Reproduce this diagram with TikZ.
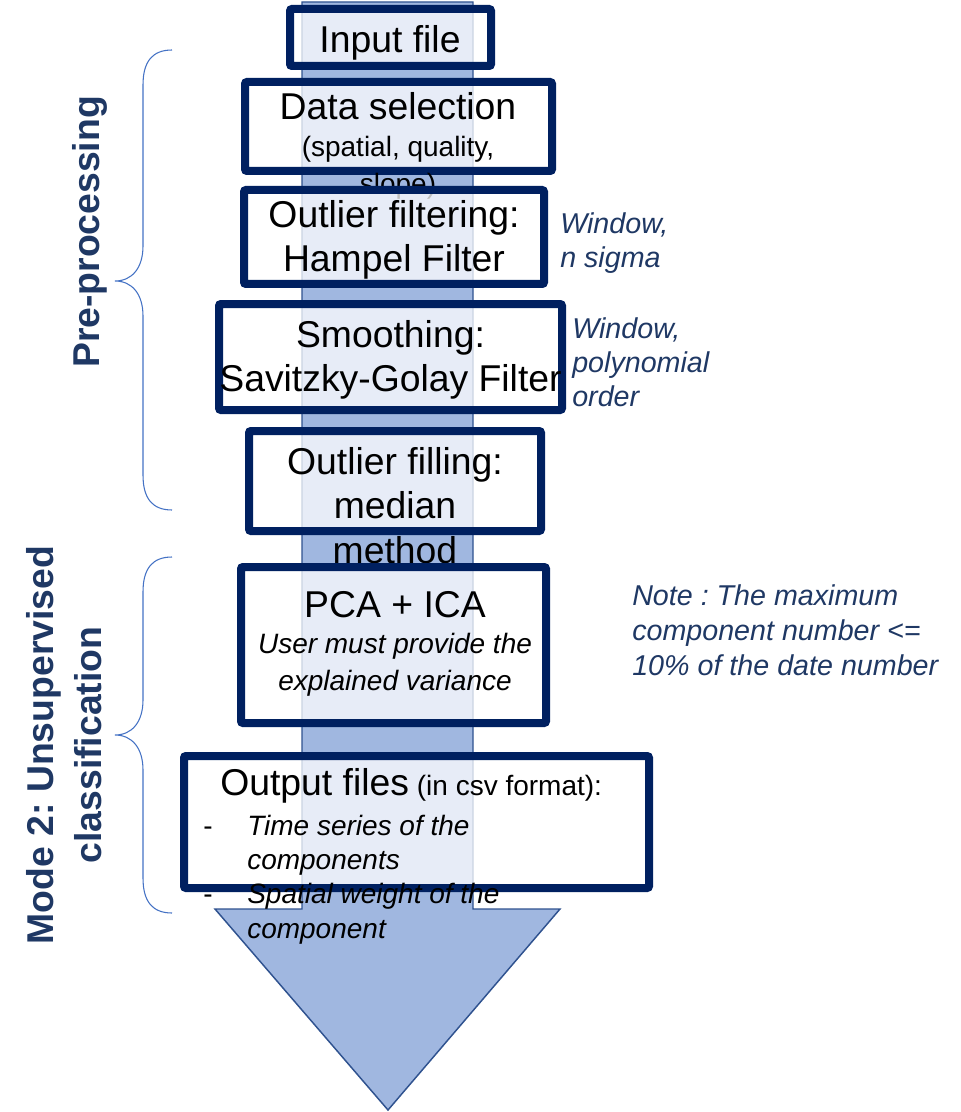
\documentclass[tikz,border=0pt]{standalone}
\usepackage{fontspec}
\setmainfont{Liberation Sans}
\usetikzlibrary{positioning}
\definecolor{boxnavy}{RGB}{0,32,96}
\definecolor{labelnavy}{RGB}{31,56,100}
\definecolor{bracecol}{RGB}{68,114,196}
\definecolor{arrowfill}{RGB}{160,183,224}
\definecolor{arrowedge}{RGB}{47,82,143}
\newcommand{\smalltxt}{\fontsize{21}{28}\selectfont}
\frenchspacing

\begin{document}
\begin{tikzpicture}[x=0.75pt, y=-0.75pt,
  stepbox/.style 2 args={draw=boxnavy, line width=6pt, fill=white, fill opacity=0.75,
    rounded corners=1.5pt, minimum width=#1*0.75pt, minimum height=#2*0.75pt, inner sep=0pt},
  steptext/.style={font=\fontsize{28}{33.5}\selectfont, align=center, inner sep=0pt, anchor=north},
  notetext/.style={text=labelnavy, font=\fontsize{21.5}{26}\selectfont\itshape, align=left,
    inner sep=0pt, anchor=north west},
  phaselabel/.style={text=labelnavy, font=\fontsize{28}{36}\selectfont\bfseries, align=center, rotate=90},
  phasebrace/.style={draw=bracecol, line width=0.8pt},
  flowarrow/.style={fill=arrowfill, draw=arrowedge, line width=1.1pt, line join=miter}]
  \useasboundingbox (0,0) rectangle (960,1112);

  % big arrow behind the steps
  \draw[flowarrow] (302,2) -- (473,2) -- (473,909) -- (560,909) -- (388,1110)
    -- (215,909) -- (302,909) -- cycle;

  % processing steps
  \node[stepbox={201}{57}] (inbox) at (390.5,37.5) {};
  \node[steptext, anchor=base] (intext) at (390,53) {Input file};

  \node[stepbox={307}{89}] (selbox) at (398.5,126.5) {};
  \node[steptext, font=\fontsize{28}{28}\selectfont] (seltext) at (398,92)
    {Data selection\\ \smalltxt (spatial, quality,\\ \smalltxt slope)};

  \node[stepbox={300}{94}] (hampbox) at (394,237) {};
  \node[steptext] (hamptext) at (394,200) {Outlier filtering:\\Hampel Filter};

  \node[stepbox={343}{106}] (sgbox) at (390.5,357) {};
  \node[steptext] (sgtext) at (390.5,320) {Smoothing:\\Savitzky-Golay Filter};

  \node[stepbox={292}{100}] (fillbox) at (395,481) {};
  \node[steptext] (filltext) at (395,447) {Outlier filling:\\median\\method};

  \node[stepbox={305}{156}] (pcabox) at (393.5,645) {};
  \node[steptext, font=\fontsize{28}{27.5}\selectfont] (pcatext) at (395,591)
    {PCA + ICA\\[-0.5pt] \smalltxt\itshape User must provide the\\ \smalltxt\itshape explained variance};

  \node[stepbox={465}{132}] (outbox) at (416.5,822) {};
  \node[steptext, font=\fontsize{21}{25.7}\selectfont, align=left, anchor=north west] (outtext) at (203,768)
    {\hspace*{12.75pt}{\fontsize{28}{28}\selectfont Output files} (in csv format):\\[4.3pt]
     \makebox[33pt][l]{-}\textit{Time series of the}\\
     \hspace*{33pt}\textit{components}\\
     \makebox[33pt][l]{-}\textit{Spatial weight of the}\\
     \hspace*{33pt}\textit{component}};

  % parameters and notes
  \node[notetext] (hampnote) at (560,212) {Window,\\n sigma};
  \node[notetext, font=\fontsize{21.5}{25.5}\selectfont\itshape] (sgnote) at (572,317) {Window,\\polynomial\\order};
  \node[notetext, font=\fontsize{21.5}{26.6}\selectfont\itshape] (pcanote) at (632,584)
    {Note : The maximum\\component number <=\\10\% of the date number};

  % phase braces
  \draw[phasebrace] (172,50) .. controls (152,50) and (143,62) .. (143,85) -- (143,246)
    .. controls (143,268) and (132,281) .. (115,281) .. controls (132,281) and (143,294) .. (143,316)
    -- (143,475) .. controls (143,498) and (152,510) .. (172,510);
  \draw[phasebrace] (172,557) .. controls (152,557) and (143,569) .. (143,592) -- (143,700)
    .. controls (143,722) and (132,735) .. (115,735) .. controls (132,735) and (143,748) .. (143,770)
    -- (143,878) .. controls (143,901) and (152,913) .. (172,913);
  \node[phaselabel] (prelabel) at (90,232) {Pre-processing};
  \node[phaselabel] (modelabel) at (64,745) {Mode 2:\ Unsupervised\\classification};
\end{tikzpicture}
\end{document}
